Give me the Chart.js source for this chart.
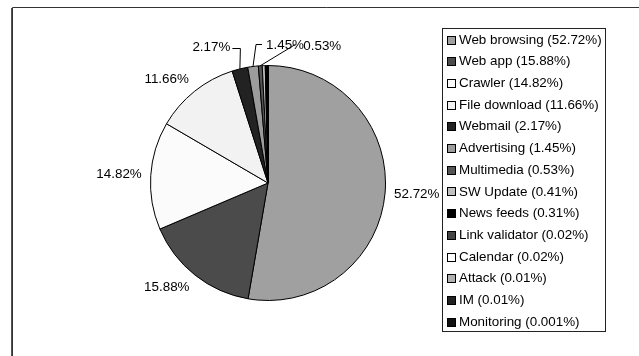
<!DOCTYPE html>
<html>
<head>
<meta charset="utf-8">
<script src="https://cdn.jsdelivr.net/npm/chart.js@4/dist/chart.umd.min.js"></script>
<style>
html,body{margin:0;padding:0;background:#fff;}
#wrap{width:639px;height:356px;position:relative;}
canvas{display:block;}
</style>
</head>
<body>
<div id="wrap"><canvas id="c" width="639" height="356"></canvas></div>
<script>
// ---- data ----
const categories = ["Web browsing","Web app","Crawler","File download","Webmail","Advertising","Multimedia","SW Update","News feeds","Link validator","Calendar","Attack","IM","Monitoring"];
const shares = [52.72,15.88,14.82,11.66,2.17,1.45,0.53,0.41,0.31,0.02,0.02,0.01,0.01,0.001];
const shareLabels = ["52.72%","15.88%","14.82%","11.66%","2.17%","1.45%","0.53%","0.41%","0.31%","0.02%","0.02%","0.01%","0.01%","0.001%"];
const sliceColors = ["#a0a0a0","#4b4b4b","#fbfbfb","#f2f2f2","#222222","#9c9c9c","#555555","#c0c0c0","#000000","#444444","#ffffff","#b0b0b0","#222222","#111111"];

// ---- styles for labels (not data) ----
const FONT = '13.4px "Liberation Sans", Arial, sans-serif';
const labelShown = [true,true,true,true,true,true,true,false,false,false,false,false,false,false];
const leaderSpec = [null,null,null,null,
  {rise:17, dx:0.5, run:-8, gap:2, align:'right', ty:-1},
  {rise:21, dx:3, run:6, gap:4, align:'left', ty:1},
  {rise:21, dx:35, run:0, gap:8, align:'left', ty:2}
];

const framePlugin = {
  id:'frame',
  beforeDraw(chart){
    const ctx = chart.ctx;
    ctx.save();
    ctx.fillStyle='#fff';
    ctx.fillRect(0,0,chart.width,chart.height);
    ctx.strokeStyle='#333';
    ctx.lineWidth=1;
    ctx.beginPath();
    ctx.moveTo(12.5,chart.height+2); ctx.lineTo(12.5,7.5); ctx.lineTo(chart.width+2,7.5);
    ctx.stroke();
    ctx.strokeStyle='#555';
    ctx.beginPath();
    ctx.moveTo(11.5,chart.height+2); ctx.lineTo(11.5,8);
    ctx.stroke();
    ctx.restore();
  }
};

const labelPlugin = {
  id:'pieLabels',
  afterDatasetsDraw(chart){
    const ctx = chart.ctx;
    const meta = chart.getDatasetMeta(0);
    ctx.save();
    ctx.font = FONT;
    ctx.fillStyle = '#000';
    ctx.strokeStyle = '#000';
    ctx.lineWidth = 1;
    ctx.textBaseline = 'middle';
    meta.data.forEach((arc,i)=>{
      if(!labelShown[i]) return;
      const {x,y,startAngle,endAngle,outerRadius} = arc.getProps(['x','y','startAngle','endAngle','outerRadius'],true);
      const mid = (startAngle+endAngle)/2;
      const c = Math.cos(mid), s = Math.sin(mid);
      const txt = shareLabels[i];
      const spec = leaderSpec[i];
      if(!spec){
        const R = outerRadius + 9;
        const w = ctx.measureText(txt).width;
        const px = x + R*c, py = y + R*s;
        const bx = px + Math.sign(c)*w/2;
        const by = py + s*6.5;
        ctx.textAlign='center';
        ctx.fillText(txt,bx,by);
      } else {
        const ex = x + outerRadius*c, ey = y + outerRadius*s;
        const topY = y - outerRadius - spec.rise;
        const tx = ex + spec.dx;
        ctx.beginPath();
        ctx.moveTo(ex,ey);
        ctx.lineTo(tx,topY);
        const hx = tx + spec.run;
        if(spec.run!==0) ctx.lineTo(hx,topY);
        ctx.stroke();
        ctx.textAlign = spec.align;
        const textX = spec.align==='right' ? hx - spec.gap : hx + spec.gap;
        ctx.fillText(txt,textX,topY+spec.ty);
      }
    });
    ctx.restore();
  }
};

const legendPlugin = {
  id:'boxLegend',
  afterDraw(chart){
    const ctx = chart.ctx;
    const L=442.5, T=28.5, W=163, H=303;
    ctx.save();
    ctx.fillStyle='#fff';
    ctx.fillRect(L,T,W,H);
    ctx.strokeStyle='#222';
    ctx.lineWidth=1;
    ctx.strokeRect(L,T,W,H);
    ctx.font = FONT;
    ctx.textBaseline='middle';
    ctx.textAlign='left';
    const step = 21.7;
    chart.data.labels.forEach((lab,i)=>{
      const cy = 39.5 + i*step;
      ctx.fillStyle = sliceColors[i];
      ctx.fillRect(447.5, Math.round(cy-4)+0.5, 8, 8);
      ctx.strokeStyle='#000';
      ctx.strokeRect(447.5, Math.round(cy-4)+0.5, 8, 8);
      ctx.fillStyle='#000';
      ctx.fillText(lab + ' (' + shareLabels[i] + ')', 459, cy+0.5);
    });
    ctx.restore();
  }
};

new Chart(document.getElementById('c'),{
  type:'pie',
  data:{
    labels:categories,
    datasets:[{
      data:shares,
      backgroundColor:sliceColors,
      borderColor:'#000',
      borderWidth:1
    }]
  },
  options:{
    responsive:false,
    animation:false,
    devicePixelRatio:1,
    layout:{padding:{left:150,right:253,top:65,bottom:55}},
    plugins:{legend:{display:false},tooltip:{enabled:false}}
  },
  plugins:[framePlugin,labelPlugin,legendPlugin]
});
</script>
</body>
</html>
